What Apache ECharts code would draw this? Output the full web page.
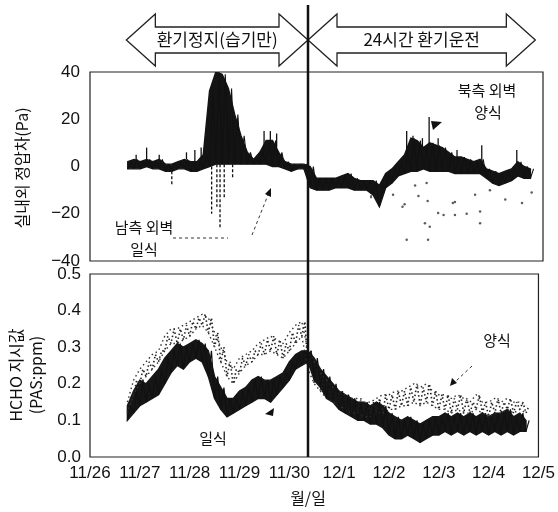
<!DOCTYPE html>
<html>
<head>
<meta charset="utf-8">
<script src="https://cdn.jsdelivr.net/npm/echarts@6/dist/echarts.min.js"></script>
<style>
  html, body { margin: 0; padding: 0; background: #fff; }
  #main { width: 558px; height: 512px; }
</style>
</head>
<body>
<div id="main"></div>
<script>
// x axis: hours since 11/26 00:00, one label per day
var dateLabels = ['11/26', '11/27', '11/28', '11/29', '11/30', '12/1', '12/2', '12/3', '12/4', '12/5'];

// samples every 3 h starting 11/26 18:00 (lower / upper edge of the dense trace)
var startHour = 18;
var stepHours = 3;

// 실내외 정압차 (Pa)
var paLo = [-1, -1, -1, 0, -1,  -1, -2, -2, -1, -1,  -2, -2, -1, 0, 1,
            1, 1, 1, 1, 1,  1, 1, 1, 0, 0,  -1, -2, -1, -1, -9,
            -10, -10, -10, -9, -9,  -9, -10, -10, -10, -12,  -17, -9, -7, -4, -3,
            -2, -2, -1, -2, -2,  -2, -2, -3, -3, -3,  -3, -3, -5, -7, -8,
            -7, -6, -4, -5, -5];
var paHi = [2, 3, 2, 3, 2,  3, 1, 1, 2, 3,  2, 2, 5, 32, 40,
            39, 33, 22, 13, 6,  3, 6, 11, 11, 6,  2, 1, 1, 1, 0,
            -5, -5, -5, -5, -4,  -3, -5, -6, -6, -6,  -8, -3, -1, 2, 5,
            12, 11, 8, 10, 9,  8, 6, 4, 4, 3,  2, 3, -1, -2, -3,
            -2, -1, 2, 0, -1];
// isolated needles: hour, where it leaves the trace, tip
var needleHours = [22, 27, 33, 39, 46, 50, 53, 58, 60.5, 62, 64, 68, 83, 86, 89,
                   134, 140, 151, 154, 158.5, 161.7, 166, 175, 186.8, 203.5];
var needleFrom = [2, 3, 3, -2, 3, 2, 3, 0, 1, 1, 1, 1, 6, 10, 8,
                  -10, -10, 5, 11, 8, 9, 9, 4, 2, 1];
var needleTo = [5, 8, 5, -8, 6, 7, 8, -20, -17, -26, -13, -5, 15, 15, 14,
                -14, -12, 15, 13, 12, 21, 12, 7, 9, 7];
// loose dots under the trace after 12/2
var paDotHours = [144.5, 149, 150, 151, 155, 156.6, 159.7, 160.5, 161, 161.2, 162, 166,
                  168.6, 173, 174, 174, 179.6, 183.6, 186, 186, 190.7, 198, 206, 210.6];
var paDotVals = [-12, -17, -16, -31, -8, -12.5, -24, -7, -14.6, -31, -25.5, -19.7,
                 -20.5, -15.5, -15, -20.5, -20, -12, -19, -24, -10, -14, -15.5, -11];

// HCHO 지시값 (ppm) - 일식
var ilLo = [0.10, 0.12, 0.14, 0.15, 0.16,  0.17, 0.20, 0.23, 0.25, 0.24,  0.26, 0.27, 0.26, 0.22, 0.16,
            0.13, 0.11, 0.12, 0.13, 0.14,  0.15, 0.16, 0.16, 0.15, 0.17,  0.19, 0.21, 0.24, 0.25, 0.26,
            0.21, 0.19, 0.16, 0.15, 0.13,  0.12, 0.11, 0.10, 0.10, 0.09,  0.09, 0.08, 0.06, 0.05, 0.05,
            0.06, 0.05, 0.04, 0.05, 0.06,  0.06, 0.07, 0.06, 0.07, 0.06,  0.07, 0.06, 0.07, 0.06, 0.07,
            0.06, 0.07, 0.06, 0.07, 0.07];
var ilHi = [0.14, 0.18, 0.21, 0.20, 0.22,  0.24, 0.27, 0.29, 0.31, 0.30,  0.31, 0.32, 0.31, 0.29, 0.22,
            0.19, 0.16, 0.16, 0.18, 0.19,  0.21, 0.22, 0.21, 0.21, 0.22,  0.23, 0.26, 0.28, 0.29, 0.29,
            0.27, 0.24, 0.22, 0.20, 0.18,  0.17, 0.16, 0.15, 0.15, 0.14,  0.15, 0.14, 0.12, 0.11, 0.10,
            0.11, 0.10, 0.09, 0.10, 0.11,  0.11, 0.12, 0.11, 0.12, 0.11,  0.12, 0.11, 0.12, 0.11, 0.12,
            0.12, 0.13, 0.11, 0.12, 0.10];
// HCHO 지시값 (ppm) - 양식
var yangLo = [0.12, 0.17, 0.20, 0.22, 0.24,  0.26, 0.29, 0.31, 0.31, 0.32,  0.33, 0.35, 0.36, 0.34, 0.30,
              0.26, 0.22, 0.20, 0.23, 0.25,  0.26, 0.28, 0.28, 0.29, 0.28,  0.27, 0.29, 0.31, 0.33, 0.24,
              0.20, 0.18, 0.16, 0.15, 0.14,  0.13, 0.12, 0.12, 0.11, 0.11,  0.12, 0.12, 0.13, 0.13, 0.14,
              0.14, 0.15, 0.14, 0.15, 0.14,  0.13, 0.13, 0.12, 0.13, 0.12,  0.12, 0.13, 0.12, 0.11, 0.12,
              0.12, 0.13, 0.12, 0.13, 0.12];
var yangHi = [0.15, 0.21, 0.24, 0.26, 0.28,  0.29, 0.33, 0.35, 0.35, 0.36,  0.37, 0.38, 0.39, 0.38, 0.34,
              0.30, 0.26, 0.24, 0.27, 0.28,  0.29, 0.31, 0.32, 0.33, 0.32,  0.31, 0.34, 0.36, 0.37, 0.29,
              0.26, 0.23, 0.21, 0.19, 0.18,  0.17, 0.16, 0.16, 0.15, 0.15,  0.16, 0.17, 0.17, 0.18, 0.18,
              0.19, 0.20, 0.19, 0.20, 0.18,  0.17, 0.17, 0.16, 0.17, 0.16,  0.15, 0.17, 0.15, 0.15, 0.16,
              0.15, 0.16, 0.15, 0.15, 0.14];

// ventilation switched on (hours since 11/26 00:00)
var switchHour = 105;

var numFont = "'Liberation Sans Narrow', 'Liberation Sans', Arial, sans-serif";
var krFont = "'Noto Sans CJK KR', sans-serif";

function sampleRows(lo, hi) {
  return lo.map(function (v, i) { return [startHour + i * stepHours, v, hi[i]]; });
}

// zigzag between lower and upper edge
function zigzag(lo, hi) {
  var out = [];
  for (var i = 0; i < lo.length; i++) {
    var h = startHour + i * stepHours;
    out.push([h, lo[i]]);
    out.push([h + stepHours / 2, hi[i]]);
  }
  return out;
}

function pairs(xs, ys) {
  return xs.map(function (x, i) { return [x, ys[i]]; });
}

// filled band between the two edges, drawn once as one polygon
function bandSeries(name, lo, hi, axis, color) {
  var rows = sampleRows(lo, hi);
  return {
    name: name, type: 'custom', xAxisIndex: axis, yAxisIndex: axis,
    data: rows, silent: true, clip: true,
    encode: { x: 0, y: [1, 2] },
    renderItem: function (params, api) {
      if (params.dataIndex !== 0) return null;
      var pts = [];
      for (var i = 0; i < rows.length; i++) pts.push(api.coord([rows[i][0], rows[i][2]]));
      for (var j = rows.length - 1; j >= 0; j--) pts.push(api.coord([rows[j][0], rows[j][1]]));
      return { type: 'polygon', shape: { points: pts },
               style: { fill: color, stroke: color, lineWidth: 1.4 } };
    }
  };
}

var chart = echarts.init(document.getElementById('main'));

var xBase = {
  type: 'value', min: 0, max: 216, interval: 24,
  axisLine: { show: false }, axisTick: { show: false }, splitLine: { show: false }
};

var hours = sampleRows(yangLo, yangHi).map(function (r) { return r[0]; });

chart.setOption({
  animation: false,
  backgroundColor: '#fff',
  grid: [
    { left: 90, right: 15, top: 72, height: 189, show: true, borderColor: '#222', borderWidth: 1.2 },
    { left: 90, right: 15, top: 274, height: 183, show: true, borderColor: '#222', borderWidth: 1.2 }
  ],
  xAxis: [
    Object.assign({ gridIndex: 0, axisLabel: { show: false } }, xBase),
    Object.assign({
      gridIndex: 1,
      axisLabel: {
        color: '#111', fontSize: 17, fontFamily: numFont, margin: 8,
        formatter: function (v) { return dateLabels[Math.round(v / 24)]; }
      }
    }, xBase)
  ],
  yAxis: [
    {
      gridIndex: 0, type: 'value', min: -40, max: 40, interval: 20,
      axisLine: { show: false }, axisTick: { show: false }, splitLine: { show: false },
      axisLabel: {
        color: '#111', fontSize: 17, fontFamily: numFont, margin: 10,
        formatter: function (v) { return v < 0 ? '\u2212' + (-v) : String(v); }
      }
    },
    {
      gridIndex: 1, type: 'value', min: 0, max: 0.5, interval: 0.1,
      axisLine: { show: false }, axisTick: { show: false }, splitLine: { show: false },
      axisLabel: {
        color: '#111', fontSize: 17, fontFamily: numFont, margin: 9,
        formatter: function (v) { return v.toFixed(1); }
      }
    }
  ],
  series: [
    bandSeries('정압차', paLo, paHi, 0, '#141414'),
    {
      name: '정압차 결', type: 'line', xAxisIndex: 0, yAxisIndex: 0,
      data: zigzag(paLo, paHi), showSymbol: false, silent: true,
      lineStyle: { color: '#111', width: 1.1 }
    },
    {
      name: '정압차 바늘', type: 'custom', xAxisIndex: 0, yAxisIndex: 0, silent: true, clip: true,
      data: needleHours.map(function (h, i) { return [h, needleFrom[i], needleTo[i]]; }),
      encode: { x: 0, y: [1, 2] },
      renderItem: function (params, api) {
        var a = api.coord([api.value(0), api.value(1)]);
        var b = api.coord([api.value(0), api.value(2)]);
        var down = api.value(2) < api.value(1);
        return { type: 'line', shape: { x1: a[0], y1: a[1], x2: b[0], y2: b[1] },
                 style: { stroke: '#111', lineWidth: 1.3, lineDash: down ? [3, 2] : null } };
      }
    },
    {
      name: '정압차 점', type: 'scatter', xAxisIndex: 0, yAxisIndex: 0,
      data: pairs(paDotHours, paDotVals), symbolSize: 2.5, silent: true,
      itemStyle: { color: '#333' }
    },
    {
      name: '양식', type: 'line', xAxisIndex: 1, yAxisIndex: 1,
      data: zigzag(yangLo, yangHi), showSymbol: false, silent: true,
      lineStyle: { color: '#222', width: 1.6, type: [1.5, 2.5] }
    },
    {
      name: '양식 하단', type: 'line', xAxisIndex: 1, yAxisIndex: 1,
      data: pairs(hours, yangLo), showSymbol: false, silent: true,
      lineStyle: { color: '#333', width: 1.4, type: [1.5, 3] }
    },
    {
      name: '양식 상단', type: 'line', xAxisIndex: 1, yAxisIndex: 1,
      data: pairs(hours, yangHi), showSymbol: false, silent: true,
      lineStyle: { color: '#333', width: 1.4, type: [1.5, 3] }
    },
    bandSeries('일식', ilLo, ilHi, 1, '#161616'),
    {
      name: '일식 결', type: 'line', xAxisIndex: 1, yAxisIndex: 1,
      data: zigzag(ilLo, ilHi), showSymbol: false, silent: true,
      lineStyle: { color: '#111', width: 1.2 }
    }
  ]
});

// annotations
var dx = chart.convertToPixel({ xAxisIndex: 1 }, switchHour);
var leftStart = chart.convertToPixel({ xAxisIndex: 1 }, 17.5);
var rightEnd = chart.convertToPixel({ xAxisIndex: 1 }, 214.5);

function arrowShape(x0, x1) {
  var hw = 29, top = 14, bot = 66, bt = 27, bb = 53, cy = 40;
  return [[x0, cy], [x0 + hw, top], [x0 + hw, bt], [x1 - hw, bt], [x1 - hw, top], [x1, cy],
          [x1 - hw, bot], [x1 - hw, bb], [x0 + hw, bb], [x0 + hw, bot]];
}

function label(text, x, y, size, rot) {
  return {
    type: 'text', x: x, y: y, rotation: rot || 0, z: 100,
    style: { text: text, fontSize: size, fontFamily: krFont, fill: '#111',
             align: 'center', verticalAlign: 'middle' }
  };
}

var dash = { stroke: '#333', lineWidth: 1, lineDash: [3, 3] };

chart.setOption({
  graphic: [
    { type: 'polygon', shape: { points: arrowShape(leftStart, dx) }, style: { fill: '#fff', stroke: '#222', lineWidth: 1.3 } },
    { type: 'polygon', shape: { points: arrowShape(dx, rightEnd) }, style: { fill: '#fff', stroke: '#222', lineWidth: 1.3 } },
    { type: 'line', z: 50, shape: { x1: dx, y1: 5, x2: dx, y2: 457 }, style: { stroke: '#111', lineWidth: 2.5 } },
    label('환기정지(습기만)', (leftStart + dx) / 2, 40, 17),
    label('24시간 환기운전', (dx + rightEnd) / 2, 40, 17),

    label('실내외 정압차(Pa)', 22, 168, 16, Math.PI / 2),
    label('HCHO 지시값', 16, 375, 16, Math.PI / 2),
    label('(PAS:ppm)', 36, 375, 16, Math.PI / 2),
    label('월/일', 308, 498, 16),

    label('북측 외벽', 487, 90, 15),
    label('양식', 488, 112, 15),
    label('남측 외벽', 144, 227, 15),
    label('일식', 144, 249, 15),
    label('일식', 213, 438, 15),
    label('양식', 497, 340, 15),

    { type: 'polyline', shape: { points: [[173, 238], [228, 238]] }, style: dash },
    { type: 'polyline', shape: { points: [[252, 235], [268, 195]] }, style: dash },
    { type: 'polygon', shape: { points: [[271, 188], [271, 197], [265, 194]] }, style: { fill: '#111' } },
    { type: 'polygon', shape: { points: [[431, 121], [442, 122], [433, 130]] }, style: { fill: '#111' } },
    { type: 'polygon', shape: { points: [[265, 414], [274, 408], [273, 416]] }, style: { fill: '#111' } },
    { type: 'polyline', shape: { points: [[472, 366], [456, 381]] }, style: dash },
    { type: 'polygon', shape: { points: [[450, 386], [452, 378], [457, 383]] }, style: { fill: '#111' } }
  ]
});
</script>
</body>
</html>
